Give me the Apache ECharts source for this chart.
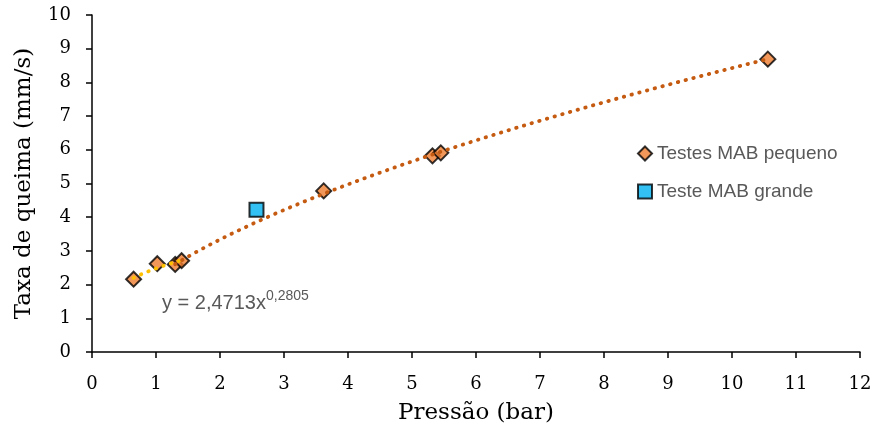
<!DOCTYPE html>
<html><head><meta charset="utf-8">
<script src="https://cdn.jsdelivr.net/npm/echarts@6/dist/echarts.min.js"></script>
<style>html,body{margin:0;padding:0;background:#fff}#c{width:877px;height:432px}</style>
</head><body><div id="c"></div>
<script>
const smallPressure = [0.65, 1.02, 1.30, 1.40, 3.62, 5.32, 5.45, 10.56];
const smallRate     = [2.16, 2.62, 2.60, 2.71, 4.78, 5.82, 5.91, 8.69];
const largePressure = [2.57];
const largeRate     = [4.22];
const xTicks = [0,1,2,3,4,5,6,7,8,9,10,11,12];
const yTicks = [0,1,2,3,4,5,6,7,8,9,10];
const seriesNames = ['Testes MAB pequeno', 'Teste MAB grande'];
const xTitle = 'Pressão (bar)';
const yTitle = 'Taxa de queima (mm/s)';
const eqBase = 'y = 2,4713x';
const eqExp = '0,2805';
// trendline subsets (indices into small series)
const lowFitIdx = [0,1,2,3];
const highFitIdx = [2,3,4,5,6,7];

function powerFit(idx){
  let n=idx.length,sx=0,sy=0,sxx=0,sxy=0;
  idx.forEach(i=>{const lx=Math.log(smallPressure[i]),ly=Math.log(smallRate[i]);sx+=lx;sy+=ly;sxx+=lx*lx;sxy+=lx*ly;});
  const b=(n*sxy-sx*sy)/(n*sxx-sx*sx); const a=Math.exp((sy-b*sx)/n);
  const xs=idx.map(i=>smallPressure[i]); const x0=Math.min(...xs), x1=Math.max(...xs);
  const pts=[]; const N=60;
  for(let k=0;k<=N;k++){const x=x0+(x1-x0)*k/N; pts.push([x,a*Math.pow(x,b)]);}
  return pts;
}

const serif = '"DejaVu Serif", "Liberation Serif", serif';
const sans = '"Liberation Sans", "Open Sans", sans-serif';
const chart = echarts.init(document.getElementById('c'));
chart.setOption({
  animation:false,
  grid:{left:92,right:17,top:15,bottom:80},
  xAxis:{type:'value',min:0,max:12,interval:1,
    name:xTitle,nameLocation:'middle',nameGap:50,
    nameTextStyle:{fontFamily:serif,fontSize:23,color:'#000'},
    axisLine:{lineStyle:{color:'#000',width:1.5}},
    axisTick:{show:true,length:6,lineStyle:{color:'#000',width:1.5}},
    axisLabel:{fontFamily:serif,fontSize:18,color:'#000',margin:23,formatter:v=>xTicks.includes(v)?String(v):''},
    splitLine:{show:false}},
  yAxis:{type:'value',min:0,max:10,interval:1,
    name:yTitle,nameLocation:'middle',nameGap:56,nameRotate:90,
    nameTextStyle:{fontFamily:serif,fontSize:23,color:'#000'},
    axisLine:{show:true,lineStyle:{color:'#000',width:1.5}},
    axisTick:{show:true,length:6,lineStyle:{color:'#000',width:1.5}},
    axisLabel:{fontFamily:serif,fontSize:18,color:'#000',margin:21,formatter:v=>yTicks.includes(v)?String(v):''},
    splitLine:{show:false}},
  legend:{orient:'vertical',left:632,top:139,itemGap:19,itemWidth:14,itemHeight:14,
    textStyle:{fontFamily:sans,fontSize:19,color:'#595959'},
    data:[{name:seriesNames[0],icon:'diamond'},{name:seriesNames[1],icon:'rect'}]},
  graphic:[{type:'text',left:162,top:289,style:{
    text:'{b|'+eqBase+'}{s|'+eqExp+'}',
    rich:{b:{fontFamily:sans,fontSize:20,fill:'#595959',color:'#595959',verticalAlign:'bottom'},
          s:{fontFamily:sans,fontSize:14,fill:'#595959',color:'#595959',verticalAlign:'top',padding:[0,0,10,0]}}}}],
  series:[
    {name:seriesNames[0],type:'scatter',symbol:'diamond',symbolSize:15,z:2,
     itemStyle:{color:'#ED7D31',borderColor:'#000',borderWidth:2},
     data:smallPressure.map((x,i)=>[x,smallRate[i]])},
    {name:seriesNames[1],type:'scatter',symbol:'rect',symbolSize:14,z:2,
     itemStyle:{color:'#00B0F0',borderColor:'#000',borderWidth:2},
     data:largePressure.map((x,i)=>[x,largeRate[i]])},
    {name:'trend-low',type:'line',showSymbol:false,symbol:'none',z:3,silent:true,
     lineStyle:{color:'#FFC000',width:3.8,type:[0.5,7.5],cap:'round'},
     data:powerFit(lowFitIdx)},
    {name:'trend-high',type:'line',showSymbol:false,symbol:'none',z:3,silent:true,
     lineStyle:{color:'#C55A11',width:3.8,type:[0.5,7.5],cap:'round'},
     data:powerFit(highFitIdx)}
  ]
});
</script></body></html>
